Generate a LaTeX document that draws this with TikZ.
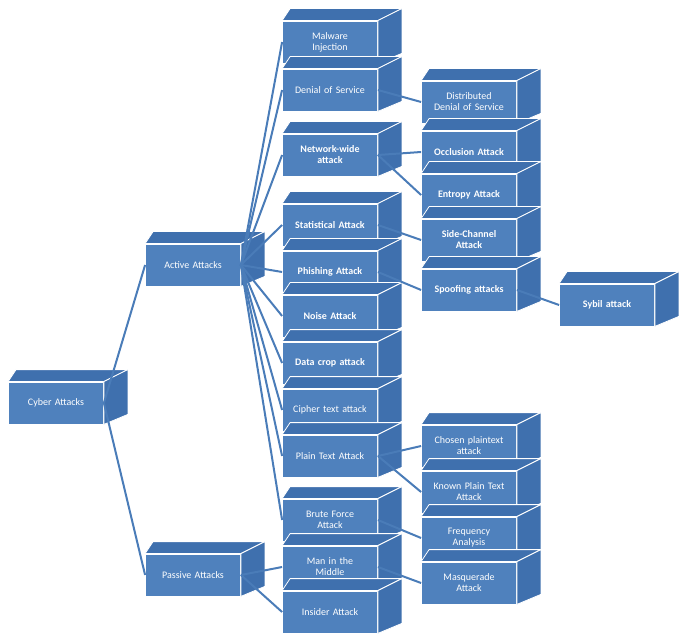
\documentclass[tikz,border=0pt]{standalone}
\usepackage{fontspec}
\setmainfont{Carlito}
\usetikzlibrary{positioning,calc}
\definecolor{boxfront}{HTML}{4F81BD}
\definecolor{boxside}{HTML}{3F70AE}
\definecolor{linkblue}{HTML}{4A7CB8}
\tikzset{
  attack/.style={fill=boxfront, draw=white, line width=0.8pt, text=white,
    minimum width=95pt, minimum height=42pt, inner sep=2pt, align=center,
    text width=88pt, font=\fontsize{10}{11}\selectfont},
  strong/.style={attack, font=\fontsize{10}{11}\selectfont\bfseries},
  link/.style={draw=linkblue, line width=2pt},
}
\newcommand{\cube}[1]{%
  \fill[boxside, draw=white, line width=0.8pt] (#1.north west) -- (#1.north east)
    -- ++(24,-12) -- ($(#1.north west)+(8,-12)$) -- cycle;
  \fill[boxside, draw=white, line width=0.8pt] (#1.north east) -- ++(24,-12)
    -- ($(#1.south east)+(24,-10)$) -- (#1.south east) -- cycle;}
\begin{document}
\begin{tikzpicture}[x=1pt,y=-1pt]
\useasboundingbox (0,0) rectangle (685,644);
% root and the two branches
\node[attack] (cyber) at (56,403) {Cyber Attacks};
\node[attack] (active) at (193,265) {Active Attacks};
\node[attack] (passive) at (193,575) {Passive Attacks};
% second column
\node[attack] (malware) at (330,42) {Malware\\Injection};
\node[attack] (dos) at (330,90) {Denial of Service};
\node[strong] (network) at (330,155) {Network-wide\\attack};
\node[strong] (stat) at (330,225) {Statistical Attack};
\node[strong] (phish) at (330,272) {Phishing Attack};
\node[strong] (noise) at (330,316) {Noise Attack};
\node[strong] (crop) at (330,363) {Data crop attack};
\node[attack] (cipher) at (330,410) {Cipher text attack};
\node[attack] (plain) at (330,456) {Plain Text Attack};
\node[attack] (brute) at (330,520) {Brute Force\\Attack};
\node[attack] (mitm) at (330,567) {Man in the\\Middle};
\node[attack] (insider) at (330,612) {Insider Attack};
% third column
\node[attack] (ddos) at (469,102) {Distributed\\Denial of Service};
\node[strong] (occl) at (469,152) {Occlusion Attack};
\node[strong] (entropy) at (469,195) {Entropy Attack};
\node[strong] (side) at (469,240) {Side-Channel\\Attack};
\node[strong] (spoof) at (469,290) {Spoofing attacks};
\node[attack] (chosen) at (469,446) {Chosen plaintext\\attack};
\node[attack] (known) at (469,492) {Known Plain Text\\Attack};
\node[attack] (freq) at (469,538) {Frequency\\Analysis};
\node[attack] (masq) at (469,583) {Masquerade\\Attack};
\node[strong] (sybil) at (607,305) {Sybil attack};
\foreach \n in {cyber,active,passive,malware,dos,network,stat,phish,noise,crop,
  cipher,plain,brute,mitm,insider,ddos,occl,entropy,side,spoof,chosen,known,
  freq,masq,sybil}{\cube{\n}}
% connectors
\draw[link] (cyber.east) -- (active.west);
\draw[link] (cyber.east) -- (passive.west);
\foreach \c in {malware,dos,network,stat,phish,noise,crop,cipher,plain,brute}
  \draw[link] (active.east) -- (\c.west);
\foreach \c in {mitm,insider} \draw[link] (passive.east) -- (\c.west);
\draw[link] (dos.east) -- (ddos.west);
\draw[link] (network.east) -- (occl.west);
\draw[link] (network.east) -- (entropy.west);
\draw[link] (stat.east) -- (side.west);
\draw[link] (phish.east) -- (spoof.west);
\draw[link] (spoof.east) -- (sybil.west);
\draw[link] (plain.east) -- (chosen.west);
\draw[link] (plain.east) -- (known.west);
\draw[link] (brute.east) -- (freq.west);
\draw[link] (mitm.east) -- (masq.west);
\end{tikzpicture}
\end{document}
